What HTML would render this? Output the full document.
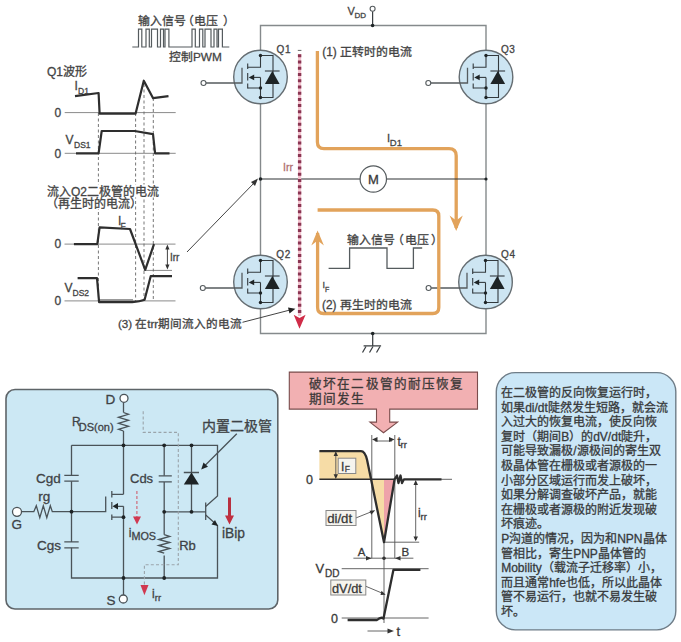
<!DOCTYPE html>
<html lang="zh-CN"><head><meta charset="utf-8">
<style>
html,body{margin:0;padding:0;background:#fff;width:681px;height:642px;overflow:hidden}
svg{display:block;font-family:"Liberation Sans",sans-serif;text-spacing-trim:space-all}
svg text{stroke:#444;stroke-width:.3px}
svg text.red{stroke:#b07070}
</style></head><body>
<svg width="681" height="642" viewBox="0 0 681 642">
<defs>
<g id="mos">
  <circle cx="0" cy="0" r="26.8" fill="#cde5f2" stroke="#656d72" stroke-width="1.4"/>
  <g stroke="#333a3e" stroke-width="1.1" fill="none">
    <path d="M0,-21.5V-9.8H-12.8"/>
    <path d="M0,-21.5H12.5V20.5H0"/>
    <path d="M4.4,-6H19.1"/>
    <path d="M-12.8,-13.5V-8M-12.8,-4V3.5M-12.8,6.5V11.5"/>
    <path d="M0,0.4H-8"/>
    <path d="M0,0.4V20.5M-12.8,11H0"/>
  </g>
  <path d="M11.8,-6L4.4,7H19.1Z" fill="#1e2426"/>
  <path d="M-11.8,0.4L-6.3,-2.4V3.2Z" fill="#1e2426"/>
  <g fill="#1e2426"><circle cx="0" cy="-21.5" r="1.7"/><circle cx="0" cy="11" r="1.7"/><circle cx="0" cy="20.5" r="1.7"/></g>
</g>
</defs>
<rect x="99" y="299" width="34" height="3.5" fill="#999"/>

<!-- ===== H-bridge rails ===== -->
<g stroke="#858a8c" stroke-width="1.4" fill="none">
  <path d="M260.5,25.5H486V333.5H260.5Z"/>
</g>
<g stroke="#3a3f42" stroke-width="1.25" fill="none">
  <path d="M372.6,11.3V25.5"/>
  <path d="M372.7,333.5V345.8M363.6,345.8H381.1"/>
  <path d="M366,346.5L362.5,352.5M373,346.5L369.5,352.5M380,346.5L376.5,352.5"/>
</g>
<g fill="#1e2426"><circle cx="372.6" cy="25.5" r="1.8"/><circle cx="372.7" cy="333.5" r="1.8"/></g>
<g fill="#fff" stroke="#555b5e" stroke-width="1.1">
  <circle cx="372.6" cy="8.8" r="2.5"/>
  <circle cx="203.5" cy="83" r="2.5"/>
  <circle cx="202.8" cy="288" r="2.5"/>
  <circle cx="428.3" cy="83" r="2.5"/>
  <circle cx="428.6" cy="288" r="2.5"/>
</g>

<use href="#mos" x="260.5" y="77"/>
<use href="#mos" x="260.5" y="282"/>
<use href="#mos" x="486" y="77"/>
<use href="#mos" x="485.5" y="282"/>
<path d="M206,83H242V67.8M205.3,288H242V272.8M430.8,83H467.5V67.8M431.1,288H467V272.8" stroke="#555b5e" stroke-width="1.3" fill="none"/>

<g font-size="10" fill="#444" letter-spacing="0.6">
<text x="276.5" y="53.3">Q1</text>
<text x="276.3" y="257.5">Q2</text>
<text x="500.9" y="53.3">Q3</text>
<text x="501" y="257.5">Q4</text>
</g>
<text x="347.5" y="14.5" font-size="11" fill="#444">V</text>
<text x="354.5" y="17.8" font-size="8" fill="#444">DD</text>

<!-- orange paths -->
<g stroke="#e2a35b" stroke-width="3.3" fill="none" stroke-linejoin="round">
  <path d="M317.4,51V142Q317.4,148.6 324,148.6H449Q456.2,148.6 456.2,155.8V228"/>

  <path d="M317.6,210H432.8Q438.8,210 438.8,216V307.5Q438.8,313.5 432.8,313.5H323.6Q317.6,313.5 317.6,307.5V233"/>

</g>
<path d="M260.5,179H486" stroke="#2f3335" stroke-width="1.2" fill="none"/>
<g fill="#1e2426"><circle cx="260.5" cy="179" r="1.8"/><circle cx="486" cy="179" r="1.6"/></g>
<circle cx="373.3" cy="179" r="13.2" fill="#fff" stroke="#555b5e" stroke-width="1.2"/>
<text x="373.3" y="184" font-size="13" fill="#333" text-anchor="middle">M</text>
<path d="M456.2,231L449.6,215.5L456.2,220.5L462.8,215.5Z M317.6,230.5L311.3,245.5L317.6,240.5L323.9,245.5Z" fill="#e2a35b"/>
<text x="322.3" y="55.8" font-size="11.9" fill="#444">(1) 正转时的电流</text>
<text x="387" y="142" font-size="11" fill="#444">I</text>
<text x="389.8" y="146.3" font-size="9.5" fill="#444">D1</text>
<text y="243.8" font-size="11.9" fill="#444"><tspan x="346.7">输入信号</tspan><tspan x="391.5">（</tspan><tspan x="405.4">电压</tspan><tspan x="431">）</tspan></text>
<path d="M328.6,268.3H349.6V248H387V268.3H413.4V248H422.2" stroke="#555b5e" stroke-width="1.3" fill="none"/>
<text x="322.5" y="288" font-size="9" fill="#444">I</text>
<text x="325" y="292" font-size="7" fill="#444">F</text>
<text x="322" y="308.6" font-size="11.9" fill="#444">(2) 再生时的电流</text>

<!-- red dotted -->
<path d="M299.6,54V316" stroke="#f3c3cf" stroke-width="3.2"/>
<path d="M299.6,54.2V316" stroke="#8a3552" stroke-width="3.4" stroke-dasharray="3 3.24"/>
<path d="M297.8,50.4H301.4" stroke="#666" stroke-width="1"/>
<path d="M293.7,314.7L299.5,328.8L305.6,314.7L299.5,318Z" fill="#d02c48"/>
<text class="red" x="283" y="170.8" font-size="10.5" fill="#b07070">Irr</text>

<!-- PWM -->
<text y="25.3" font-size="11.9" fill="#444"><tspan x="138.3">输入信号</tspan><tspan x="181.5">（</tspan><tspan x="194">电压</tspan><tspan x="223.3">）</tspan></text>
<path d="M132.3,47H138.5V29.2H141.8V47H146.0V29.2H149.3V47H151.5V29.2H157.5V47H160.5V29.2H163.5V47H165.0V29.2H168.9V47H192.0V29.2H195.3V47H199.5V29.2H202.8V47H205.0V29.2H211.0V47H214.0V29.2H217.0V47H218.5V29.2H222.4V47H229.3" stroke="#555b5e" stroke-width="1.2" fill="none"/>
<text x="169" y="61" font-size="11.8" fill="#444">控制PWM</text>

<!-- Q1 waveforms -->
<text x="47" y="75.5" font-size="12" fill="#444">Q1波形</text>
<g stroke="#8a8a8a" stroke-width="1" fill="none">
  <path d="M64.7,112.6H175.7M64.7,153.3H175.7M64.5,244.1H175.5M64.5,300.9H175.5M143.7,270.4H172"/>
</g>
<g stroke="#666" stroke-width="0.9" fill="none" stroke-dasharray="3 2.5">
  <path d="M98.4,113V301M135.6,113V301M144,84V301M153.3,98V301"/>
</g>
<g stroke="#2e2e2e" stroke-width="2.2" fill="none" stroke-linejoin="round">
  <path d="M75,96.1L98.6,93L99.6,113.6H135.6L143.8,80.7L153.1,98.2L168.5,96.1"/>
  <path d="M76,153.3H98.6L101.7,131H134.6L153,134.2L155.1,153.3H169.5"/>
  <path d="M73.9,244.1H97.3L99.6,227.3L130,229L145.2,269.8L154,244.1"/>
  <path d="M77.6,278.1H97L99.1,302.1H132.2Q140,301.5 144.6,299.8L150.7,276.2H172"/>
</g>
<g font-size="12" fill="#444">
<text x="54.5" y="116.8">0</text>
<text x="54.5" y="157.8">0</text>
<text x="54.5" y="248.2">0</text>
<text x="54.5" y="305.3">0</text>
<text x="74.5" y="90.2">I</text>
<text x="65.5" y="143.5">V</text>
<text x="64.5" y="292">V</text>
<text x="118" y="224.5">I</text>
</g>
<g font-size="8.5" fill="#444">
<text x="78" y="93.5">D1</text>
<text x="74" y="147.5">DS1</text>
<text x="72.5" y="295.5">DS2</text>
<text x="120.6" y="229">F</text>
</g>
<path d="M46,184.5H158V197.5H135V209H46Z" fill="#fff"/>
<text x="47" y="195.5" font-size="12" fill="#444">流入Q2二极管的电流</text>
<text x="46" y="208" font-size="12" fill="#444">（再生时的电流）</text>
<!-- irr dim -->
<g stroke="#444" stroke-width="1" fill="none"><path d="M167.4,247V267"/></g>
<path d="M167.4,244.5L165.3,249.5H169.5Z M167.4,269.5L165.3,264.5H169.5Z" fill="#333"/>
<text x="170" y="261" font-size="10" fill="#444">Irr</text>
<path d="M187,252L255,182" stroke="#444" stroke-width="1" fill="none"/>
<path d="M258,178.5L251,182L255,186Z" fill="#333"/>
<text x="117.9" y="328.2" font-size="11.6" fill="#444">(3) 在trr期间流入的电流</text>
<path d="M242.5,322.3L290,310" stroke="#444" stroke-width="1" fill="none"/>
<path d="M295.4,308.8L288,307.5L289.5,313.5Z" fill="#222"/>

<!-- ===== bottom-left blue box ===== -->
<rect x="6" y="389.5" width="271.8" height="219.5" rx="9" fill="#cce8f4" stroke="#5e6468" stroke-width="1.6"/>

<!-- bottom-left circuit -->
<g stroke="#4a5358" stroke-width="1.3" fill="none">
  <path d="M123.5,402.3V412.5M123.5,431V494.3M123.5,506.3V595"/>
  <path d="M123.5,412.5l5,1.8l-10,3l10,3l-10,3l10,3l-10,3l5,1.7"/>
  <path d="M71.5,445.3H217.5V496L205.7,506.5M205.7,515L217.5,525.5V578H71.5V547.8M71.5,541.9V481.2M71.5,475.3V445.3"/>
  <path d="M64.3,475.3H78.7M64.3,481.2H78.7M64.3,541.9H78.7M64.3,547.8H78.7"/>
  <path d="M21.5,511.7H33.8l2.5,-6l3.5,12l3.5,-12l3.5,12l3.5,-12l2,6H105.7V496.5"/>
  <path d="M123.5,494.3H111.8M111.8,491V497.5M111.8,502V509M111.8,514.5V520M111.8,517.2H123.5M123.5,506.3H117"/>
  <path d="M164.2,445.3V475.8M164.2,481.9V534.7M164.2,555.4V578"/>
  <path d="M158.7,475.8H171.8M158.7,481.9H171.8"/>
  <path d="M164.2,534.7l5.5,1.8l-11,3l11,3l-11,3l11,3l-11,3l5.5,1.7"/>
  <path d="M191.5,445.3V511.8M164.2,511.8H205.7M205.7,502.4V520M183.8,472.5H199"/>
  <path d="M236.8,433.7L203,467.5"/>
</g>
<path d="M191.5,472.5L183.8,484.5H199Z" fill="#1e2426"/>
<path d="M112.5,506.3L118,503V509.6Z" fill="#1e2426"/>
<path d="M218,526L211.5,524.5L215,520Z" fill="#1e2426"/>
<path d="M201.2,469.4L203.5,462.5L208,466.8Z" fill="#1e2426"/>
<g fill="#1e2426">
 <circle cx="123.5" cy="445.3" r="1.9"/><circle cx="164.2" cy="445.3" r="1.9"/><circle cx="191.5" cy="445.3" r="1.9"/>
 <circle cx="71.5" cy="511.7" r="1.9"/><circle cx="123.5" cy="517.2" r="1.9"/><circle cx="164.2" cy="511.8" r="1.9"/><circle cx="191.5" cy="511.8" r="1.9"/>
 <circle cx="123.5" cy="578" r="1.9"/><circle cx="164.2" cy="578" r="1.9"/>
</g>
<g fill="#fff" stroke="#4a5358" stroke-width="1.3">
 <circle cx="124" cy="398.3" r="4"/><circle cx="17" cy="511.8" r="4.5"/><circle cx="123.3" cy="599" r="4"/>
</g>
<g stroke="#9aa4aa" stroke-width="1.1" fill="none" stroke-dasharray="3 2.2">
  <path d="M143.2,411.2V432.4H178.3V564.8H144.4V586"/>
</g>
<path d="M136.9,491V517" stroke="#d06070" stroke-width="1.1" stroke-dasharray="3 2" fill="none"/>
<path d="M133,516.5H141L137,524.5Z" fill="#d03850"/>
<path d="M140.5,585H148.5L144.4,595.2Z" fill="#d03850"/>
<path d="M229.5,497.5V517" stroke="#b83040" stroke-width="3" fill="none"/>
<path d="M225,515.5H234L229.5,524.5Z" fill="#c03040"/>
<g fill="#3a4248">
<text x="105.5" y="403.8" font-size="13.5">D</text>
<text x="72" y="425.6" font-size="12">R</text>
<text x="78.8" y="431" font-size="11">DS(on)</text>
<text x="36" y="482.8" font-size="13.5">Cgd</text>
<text x="38.2" y="501" font-size="13.5">rg</text>
<text x="11.5" y="529.3" font-size="13.5">G</text>
<text x="37" y="550" font-size="13.5">Cgs</text>
<text x="106.5" y="604.5" font-size="13.5">S</text>
<text x="130" y="483.4" font-size="13">Cds</text>
<text x="128.8" y="537" font-size="12">i</text>
<text x="131.4" y="539.5" font-size="10.8">MOS</text>
<text x="179.2" y="550" font-size="13">Rb</text>
<text x="222" y="537.5" font-size="13.8">iBip</text>
<text x="152" y="597.8" font-size="12">i</text>
<text x="154.8" y="600.8" font-size="9.5">rr</text>
<text x="202.4" y="430.5" font-size="14" stroke="#3a4248" stroke-width="0.35">内置二极管</text>
</g>

<!-- middle section -->
<path d="M289.3,372.1H477.5V409.1H389.7V422.1H397.6L383.5,432.7L369.9,422.1H376.5V409.1H289.3Z" fill="#f2b0b2" stroke="#7a4c4c" stroke-width="1.1"/>
<g fill="#3a3030" font-size="12.6" letter-spacing="1.15">
<text x="309" y="387.6">破坏在二极管的耐压恢复</text>
<text x="309" y="403.2">期间发生</text>
</g>
<path d="M319.4,451.1H361Q365,451.1 367.1,460L371.1,479.3H319.4Z" fill="#f6dca6"/>
<path d="M371.1,479.3H384V542.2Z" fill="#f6dca6"/>
<path d="M384,479.3H394.6L384,542.2Z" fill="#eea3aa"/>
<g stroke="#555" stroke-width="0.9" fill="none">
  <path d="M371.8,435V558.2M394.8,435V558.2M384,542.2V623"/>
  <path d="M441,479.3H452M384,542.2H419.2M353.4,558.2H413.4M341.7,568.7H428.6M341.7,618H428.6"/>
  <path d="M335.8,453V477M415.7,483V540M375,441H392M367.5,631H390"/>
  <path d="M355.8,518L372,511.5M365.2,586L383,593.5"/>
</g>
<g fill="#333">
  <path d="M372,439.5L377.5,437V442Z M394.6,439.5L389,437V442Z"/>
  <path d="M335.8,451.3L333.6,456H338Z M335.8,479L333.6,474.3H338Z"/>
  <path d="M415.7,480L413.5,485H418Z M415.7,541.3L413.5,536.5H418Z"/>
  <path d="M371.6,558.2L366,556V560.4Z M395,558.2L400.5,556V560.4Z"/>
  <path d="M394,631L387.5,628.5V633.5Z"/>
  <circle cx="384" cy="558.2" r="1.8"/>
  <path d="M375.2,510.3L369.5,510.8L371.3,514.8Z M385.7,594.8L381.5,590.8L380.5,595Z"/>
</g>
<g stroke="#2e2e2e" stroke-width="2.3" fill="none" stroke-linejoin="round">
  <path d="M319.4,451.1H361Q365,451.1 367.1,460L384,542.2L394.6,479.3L397,475.5L398.5,483L400.5,475.5L402,483L404,479.3H441.5"/>

  <path d="M347.6,620H377Q381,616.5 383.5,618.5L393.4,569.9H420.4"/>
</g>
<path d="M319.4,479.3H394.6" stroke="#2e2e2e" stroke-width="1.4"/>
<g fill="#f6f4ee" stroke="#888" stroke-width="1">
  <rect x="338.2" y="458.2" width="17.6" height="15.3"/>
  <rect x="326" y="510.5" width="30" height="15"/>
  <rect x="330.8" y="580" width="35" height="15"/>
</g>
<g fill="#333">
<text x="341" y="470.5" font-size="12">I</text>
<text x="344.8" y="471.5" font-size="8.5">F</text>
<text x="306" y="484" font-size="12.5">0</text>
<text x="397.6" y="446" font-size="12">t</text>
<text x="400.5" y="448.2" font-size="9.5">rr</text>
<text x="418" y="517" font-size="12">i</text>
<text x="420.5" y="520" font-size="9.5">rr</text>
<text x="327.2" y="522.8" font-size="13.2">di/dt</text>
<text x="357.8" y="555.8" font-size="11.5">A</text>
<text x="401.5" y="555.8" font-size="11.5">B</text>
<text x="315.5" y="573.4" font-size="13">V</text>
<text x="325" y="577.3" font-size="10">DD</text>
<text x="331" y="622.8" font-size="12.5">0</text>
<text x="332" y="592.8" font-size="12.8">dV/dt</text>
<text x="396.5" y="635.7" font-size="13">t</text>
</g>

<!-- right text box -->
<rect x="496.3" y="372.6" width="179.5" height="257.3" rx="19" fill="#cbe7f7" stroke="#6f7d88" stroke-width="1.4"/>
<g fill="#2e3438" font-size="12" stroke="#2e3438" stroke-width="0.35">
<text x="501.2" y="397.0">在二极管的反向恢复运行时，</text>
<text x="501.2" y="411.6">如果di/dt陡然发生短路，就会流</text>
<text x="501.2" y="426.2">入过大的恢复电流，使反向恢</text>
<text x="501.2" y="440.8">复时（期间B）的dV/dt陡升，</text>
<text x="501.2" y="455.4">可能导致漏极/源极间的寄生双</text>
<text x="501.2" y="470.0">极晶体管在栅极或者源极的一</text>
<text x="501.2" y="484.6">小部分区域运行而发上破坏，</text>
<text x="501.2" y="499.2">如果分解调查破坏产品，就能</text>
<text x="501.2" y="513.8">在栅极或者源极的附近发现破</text>
<text x="501.2" y="528.4">坏痕迹。</text>
<text x="501.2" y="543.0">P沟道的情况，因为和NPN晶体</text>
<text x="501.2" y="557.6">管相比，寄生PNP晶体管的</text>
<text x="501.2" y="572.2">Mobility（载流子迁移率）小，</text>
<text x="501.2" y="586.8">而且通常hfe也低，所以此晶体</text>
<text x="501.2" y="601.4">管不易运行，也就不易发生破</text>
<text x="501.2" y="616.0">坏。</text>
</g>
</svg>
</body></html>
